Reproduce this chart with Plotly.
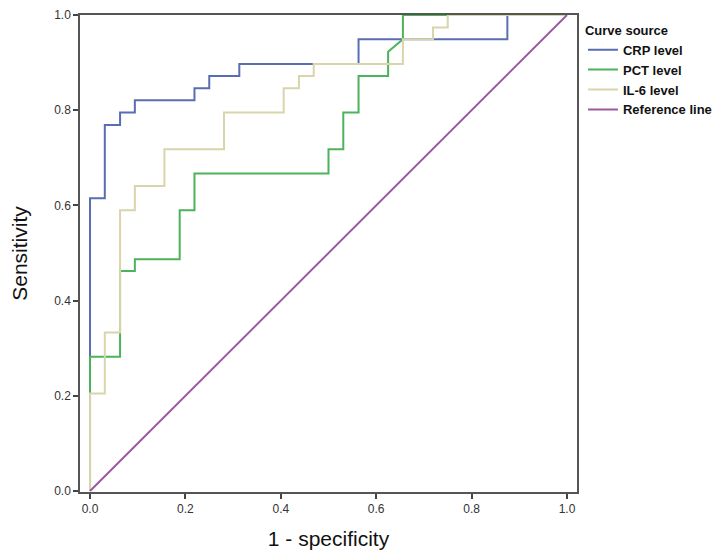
import plotly.graph_objects as go

# ROC curve coordinates (1 - specificity, sensitivity)
crp_fpr = [0, 0, 0.031, 0.031, 0.063, 0.063, 0.094, 0.094, 0.219, 0.219, 0.25, 0.25,
           0.313, 0.313, 0.563, 0.563, 0.875, 0.875, 1.0]
crp_tpr = [0, 0.615, 0.615, 0.769, 0.769, 0.795, 0.795, 0.821, 0.821, 0.846, 0.846, 0.872,
           0.872, 0.897, 0.897, 0.949, 0.949, 1.0, 1.0]

pct_fpr = [0, 0, 0.063, 0.063, 0.094, 0.094, 0.188, 0.188, 0.219, 0.219, 0.5, 0.5,
           0.531, 0.531, 0.563, 0.563, 0.625, 0.625, 0.656, 0.656, 1.0]
pct_tpr = [0, 0.282, 0.282, 0.462, 0.462, 0.487, 0.487, 0.590, 0.590, 0.667, 0.667, 0.718,
           0.718, 0.795, 0.795, 0.872, 0.872, 0.923, 0.949, 1.0, 1.0]

il6_fpr = [0, 0, 0.031, 0.031, 0.063, 0.063, 0.094, 0.094, 0.156, 0.156, 0.281, 0.281,
           0.406, 0.406, 0.438, 0.438, 0.469, 0.469, 0.656, 0.656, 0.719, 0.719, 0.75, 0.75, 1.0]
il6_tpr = [0, 0.205, 0.205, 0.333, 0.333, 0.590, 0.590, 0.641, 0.641, 0.718, 0.718, 0.795,
           0.795, 0.846, 0.846, 0.872, 0.872, 0.897, 0.897, 0.949, 0.949, 0.974, 0.974, 1.0, 1.0]

ref_x = [0, 1]
ref_y = [0, 1]

tick_vals = [0.0, 0.2, 0.4, 0.6, 0.8, 1.0]
tick_text = ["0.0", "0.2", "0.4", "0.6", "0.8", "1.0"]

fig = go.Figure()
fig.add_trace(go.Scatter(x=crp_fpr, y=crp_tpr, mode="lines", name="CRP level",
                         line=dict(color="#5a6db3", width=2)))
fig.add_trace(go.Scatter(x=pct_fpr, y=pct_tpr, mode="lines", name="PCT level",
                         line=dict(color="#4cb25c", width=2)))
fig.add_trace(go.Scatter(x=il6_fpr, y=il6_tpr, mode="lines", name="IL-6 level",
                         line=dict(color="#d8d5ab", width=2)))
fig.add_trace(go.Scatter(x=ref_x, y=ref_y, mode="lines", name="Reference line",
                         line=dict(color="#9a5a9e", width=2)))

axis_common = dict(
    showgrid=False, zeroline=False, showline=True, mirror=True,
    linecolor="#555555", linewidth=1.5, automargin=False,
    ticks="outside", ticklen=5, tickcolor="#444444", tickwidth=1.5,
    tickvals=tick_vals, ticktext=tick_text,
    tickfont=dict(family="Liberation Sans, Arial", size=12, color="#333333"),
)

fig.update_layout(
    width=716, height=552,
    margin=dict(l=72, r=147, t=7, b=68, autoexpand=False),
    plot_bgcolor="white", paper_bgcolor="white",
    xaxis=dict(range=[-0.021, 1.021],
               title=dict(text="1 - specificity", standoff=16,
                          font=dict(family="Liberation Sans, Arial", size=21, color="#111111")),
               **axis_common),
    yaxis=dict(range=[-0.002, 1.0],
               title=dict(text="Sensitivity", standoff=40,
                          font=dict(family="Liberation Sans, Arial", size=21, color="#111111")),
               **axis_common),
    legend=dict(
        title=dict(text="<b>Curve source</b>",
                   font=dict(family="Liberation Sans, Arial", size=13, color="#111111")),
        font=dict(family="Liberation Sans, Arial", size=13, color="#111111"),
        x=1.012, y=0.994, xanchor="left", yanchor="top",
        tracegroupgap=0, itemwidth=30,
        bgcolor="rgba(0,0,0,0)",
    ),
)
for tr in fig.data:
    tr.name = "<b>" + tr.name + "</b>"

fig.write_html("out.html")
